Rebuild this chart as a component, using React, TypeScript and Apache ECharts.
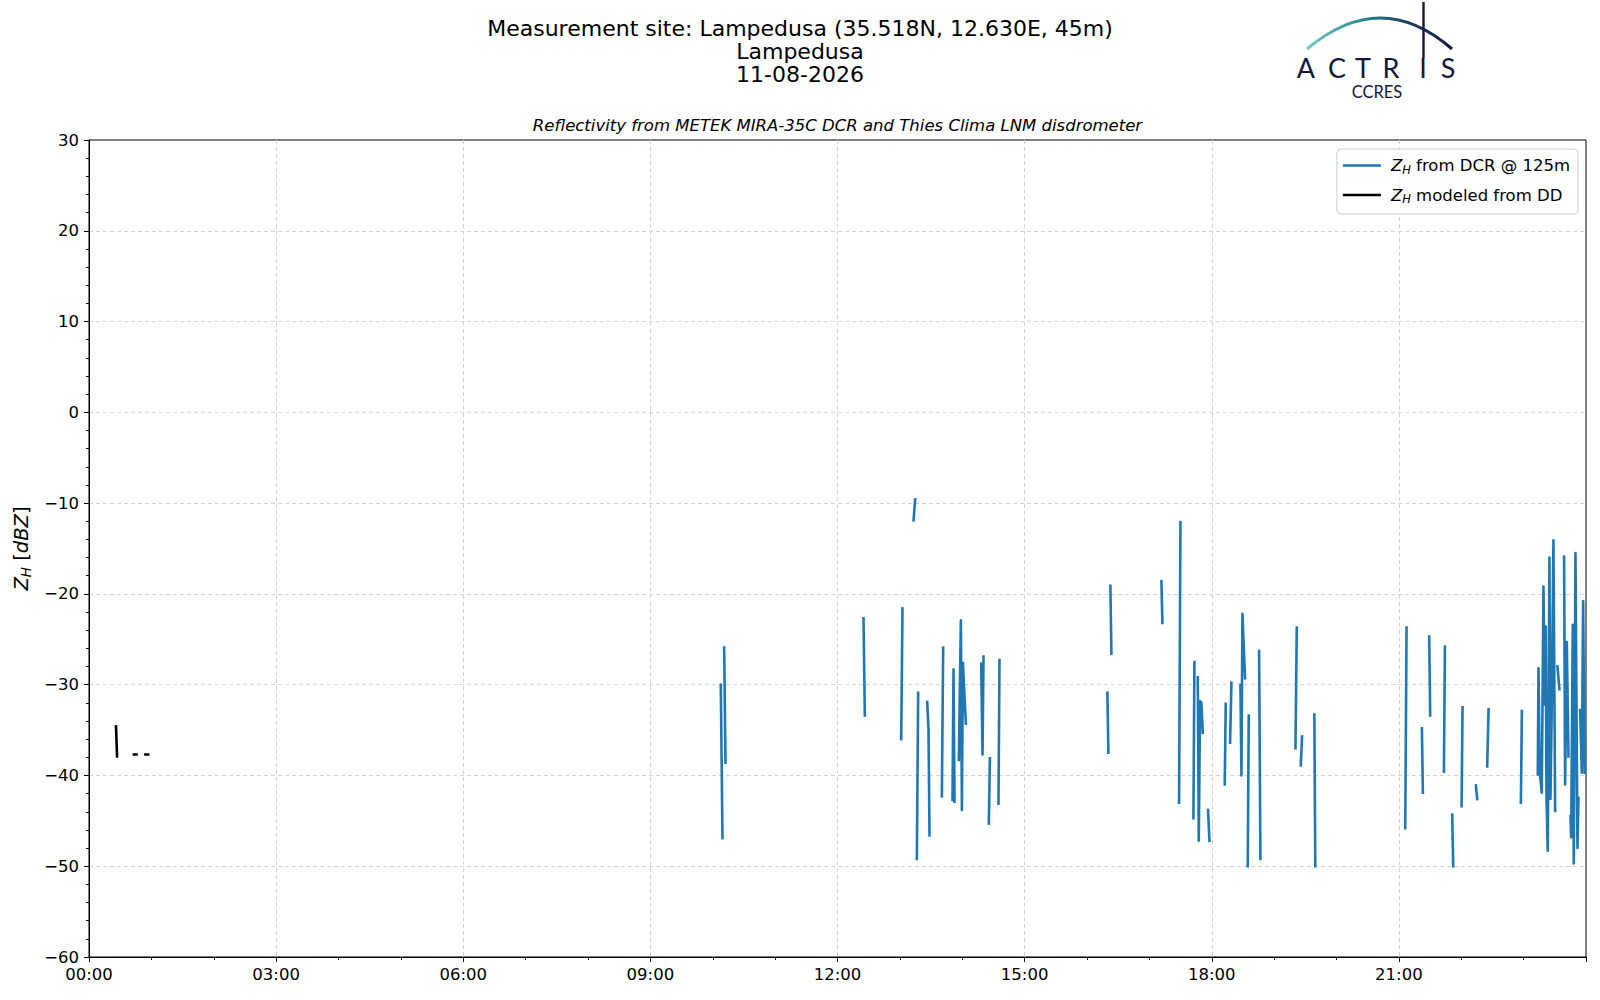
import React, { useEffect, useRef } from 'react';
import * as echarts from 'echarts';

// ---- Data (hours since 00:00 UTC, reflectivity in dBZ; null = gap) ----
const dcrHours: (number | null)[] = [
  10.129, 10.156, null,
  10.183, 10.204, null,
  12.417, 12.438, null,
  13.021, 13.042, null,
  13.219, 13.245, null,
  13.272, 13.293, null,
  13.438, 13.459, 13.475, null,
  13.673, 13.694, null,
  13.844, 13.86, 13.876, null,
  13.945, 13.978, 13.994, 14.01, 14.058, null,
  14.304, 14.325, 14.341, null,
  14.426, 14.443, null,
  14.581, 14.597, null,
  16.327, 16.343, null,
  16.375, 16.391, null,
  17.193, 17.209, null,
  17.476, 17.498, null,
  17.706, 17.722, null,
  17.776, 17.792, 17.813, 17.834, 17.856, null,
  17.941, 17.963, null,
  18.208, 18.224, null,
  18.294, 18.315, null,
  18.46, 18.476, 18.492, 18.534, null,
  18.577, 18.593, null,
  18.759, 18.78, null,
  19.342, 19.363, null,
  19.427, 19.448, null,
  19.645, 19.66, null,
  21.102, 21.123, null,
  21.369, 21.385, null,
  21.486, 21.502, null,
  21.722, 21.738, null,
  21.855, 21.871, null,
  22.005, 22.021, null,
  22.235, 22.256, null,
  22.416, 22.438, null,
  22.956, 22.972, null,
  23.227, 23.238, 23.259, 23.291, 23.318, 23.339, 23.355, 23.366, 23.387, 23.414, 23.43, 23.452, 23.478, 23.505, null,
  23.542, 23.574, null,
  23.649, 23.665, 23.692, 23.719, null,
  23.751, 23.762, 23.788, 23.804, 23.831, 23.863, 23.879, null,
  23.906, 23.933, 23.954, 23.978,
];
const dcrZh: (number | null)[] = [
  -30.0, -46.9, null,
  -25.9, -38.6, null,
  -22.7, -33.4, null,
  -36.0, -21.6, null,
  -11.9, -9.6, null,
  -49.2, -30.9, null,
  -31.9, -34.9, -46.6, null,
  -42.3, -25.9, null,
  -42.7, -28.3, -42.9, null,
  -38.3, -22.9, -43.8, -27.6, -34.3, null,
  -27.7, -37.7, -26.9, null,
  -45.3, -38.1, null,
  -43.1, -27.3, null,
  -30.9, -37.5, null,
  -19.1, -26.6, null,
  -18.6, -23.2, null,
  -43.0, -12.1, null,
  -44.7, -27.5, null,
  -29.2, -47.2, -31.8, -32.0, -35.3, null,
  -43.8, -47.2, null,
  -41.0, -32.1, null,
  -36.4, -29.8, null,
  -30.0, -40.0, -22.2, -29.3, null,
  -50.0, -33.4, null,
  -26.3, -49.2, null,
  -37.0, -23.7, null,
  -38.9, -35.7, null,
  -33.3, -50.0, null,
  -45.8, -23.7, null,
  -34.8, -41.9, null,
  -24.7, -33.4, null,
  -39.6, -25.8, null,
  -44.3, -50.0, null,
  -43.4, -32.5, null,
  -41.1, -42.6, null,
  -39.0, -32.7, null,
  -43.0, -32.9, null,
  -39.9, -28.2, -39.7, -41.9, -19.2, -32.2, -23.6, -42.3, -48.3, -16.0, -42.6, -32.0, -14.1, -43.9, null,
  -28.0, -30.5, null,
  -15.9, -41.0, -25.3, -37.9, null,
  -44.5, -46.8, -23.4, -49.7, -15.5, -48.0, -42.5, null,
  -32.8, -39.7, -20.8, -39.7,
];
const ddHours: (number | null)[] = [0.433, 0.45, null, 0.72, 0.762, null, 0.905, 0.948];
const ddZh: (number | null)[] = [-34.6, -37.9, null, -37.7, -37.7, null, -37.7, -37.7];

const xMin = 0;
const xMax = 24;
const xStep = 3;
const yMin = -60;
const yMax = 30;
const yStep = 10;

const titleLines = [
  'Measurement site: Lampedusa (35.518N, 12.630E, 45m)',
  'Lampedusa',
  '11-08-2026',
];
const subTitle = 'Reflectivity from METEK MIRA-35C DCR and Thies Clima LNM disdrometer';
const dcrName = 'Z_H from DCR @ 125m';
const ddName = 'Z_H modeled from DD';
const logoLetters = ['A', 'C', 'T', 'R', 'I', 'S'];

const FONT = 'DejaVu Sans';
const NAVY = '#15163d';

function toPairs(xs: (number | null)[], ys: (number | null)[]) {
  return xs.map((x, i) => (x === null || ys[i] === null ? '-' : [x, ys[i]]));
}

function txt(x: number, y: number, text: string, extra: any) {
  return {
    type: 'text',
    x,
    y,
    silent: true,
    style: {
      text,
      align: 'center',
      verticalAlign: 'middle',
      textAlign: 'center',
      textVerticalAlign: 'middle',
      fill: '#000',
      fontFamily: FONT,
      ...extra,
    },
  };
}

export default function App() {
  const ref = useRef<HTMLDivElement>(null);
  useEffect(() => {
    const chart = echarts.init(ref.current!, null, { renderer: 'svg' });
    const letterX = [1306, 1337, 1363, 1391, 1423, 1448];
    const graphics: any[] = [
      ...titleLines.map((t, i) => txt(800, 28.6 + i * 23, t, { fontSize: 22 })),
      txt(837.5, 125.5, subTitle, { fontSize: 16.5, fontStyle: 'italic' }),
      {
        type: 'bezierCurve',
        silent: true,
        shape: { x1: 1307, y1: 49, x2: 1452, y2: 49, cpx1: 1381, cpy1: -13 },
        style: {
          fill: 'none',
          lineWidth: 3,
          stroke: new echarts.graphic.LinearGradient(0, 0, 1, 0, [
            { offset: 0, color: '#7cc8c4' },
            { offset: 0.35, color: '#2f8f98' },
            { offset: 0.7, color: '#1d3b5c' },
            { offset: 1, color: NAVY },
          ]),
        },
      },
      {
        type: 'rect',
        silent: true,
        shape: { x: 1422.3, y: 2, width: 2.4, height: 56 },
        style: { fill: NAVY },
      },
      ...logoLetters.map((l, i) =>
        txt(letterX[i], 67.5, l, { fontSize: 27, fontFamily: 'Lato', fill: NAVY })
      ),
      txt(1377, 91.5, 'CCRES', { fontSize: 16.5, fontFamily: 'Lato', fill: NAVY }),
    ];

    const richLegend = {
      i: { fontStyle: 'italic', fontSize: 16.5, fontFamily: FONT, lineHeight: 20, padding: [0, 0, 0, 5], color: '#000' },
      s: { fontStyle: 'italic', fontSize: 11.5, fontFamily: FONT, lineHeight: 10, verticalAlign: 'bottom', color: '#000' },
      t: { fontSize: 16.5, fontFamily: FONT, lineHeight: 20, color: '#000' },
    };

    const option: any = {
      animation: false,
      backgroundColor: '#fff',
      textStyle: { fontFamily: FONT },
      graphic: graphics,
      grid: {
        left: 89,
        right: 14,
        top: 140,
        bottom: 43,
        show: true,
        borderColor: '#000',
        borderWidth: 1,
        containLabel: false,
        outerBoundsMode: 'none',
      },
      legend: {
        orient: 'vertical',
        right: 22,
        top: 149,
        padding: [8, 8, 9, 6],
        itemGap: 11,
        itemWidth: 38,
        itemHeight: 2.5,
        icon: 'rect',
        borderColor: '#cccccc',
        borderWidth: 1,
        borderRadius: 4,
        backgroundColor: 'rgba(255,255,255,0.8)',
        itemStyle: { borderWidth: 0 },
        data: [dcrName, ddName],
        formatter: (name: string) =>
          name === dcrName ? '{i|Z}{s|H}{t| from DCR @ 125m}' : '{i|Z}{s|H}{t| modeled from DD}',
        textStyle: { rich: richLegend, fontSize: 16.5, color: '#000' },
      },
      xAxis: {
        type: 'value',
        min: xMin,
        max: xMax,
        interval: xStep,
        axisLine: { show: true, onZero: false, lineStyle: { color: '#000', width: 1 } },
        axisTick: { show: true, length: 5, lineStyle: { color: '#000', width: 1 } },
        minorTick: { show: true, splitNumber: 3, length: 3, lineStyle: { color: '#000', width: 1 } },
        axisLabel: {
          margin: 9,
          fontSize: 16.5,
          color: '#000',
          fontFamily: FONT,
          formatter: (v: number) => (v >= 24 ? '' : String(v).padStart(2, '0') + ':00'),
        },
        splitLine: {
          show: true,
          showMinLine: false,
          showMaxLine: false,
          lineStyle: { color: '#d3d3d3', width: 1, type: [4, 3] },
        },
        minorSplitLine: { show: false },
      },
      yAxis: {
        type: 'value',
        min: yMin,
        max: yMax,
        interval: yStep,
        name: '{i|Z}{s|H}{t| [}{i|dBZ}{t|]}',
        nameLocation: 'middle',
        nameRotate: 90,
        nameGap: 54,
        nameTextStyle: {
          rich: {
            i: { fontStyle: 'italic', fontSize: 19.5, fontFamily: FONT, lineHeight: 24, color: '#000' },
            s: { fontStyle: 'italic', fontSize: 13.5, fontFamily: FONT, lineHeight: 12, verticalAlign: 'bottom', color: '#000' },
            t: { fontSize: 19.5, fontFamily: FONT, lineHeight: 24, color: '#000' },
          },
        },
        axisLine: { show: true, onZero: false, lineStyle: { color: '#000', width: 1 } },
        axisTick: { show: true, length: 5, lineStyle: { color: '#000', width: 1 } },
        minorTick: { show: true, splitNumber: 5, length: 3, lineStyle: { color: '#000', width: 1 } },
        axisLabel: {
          margin: 10,
          fontSize: 16.5,
          color: '#000',
          fontFamily: FONT,
          formatter: (v: number) => (v < 0 ? '\u2212' + String(-v) : String(v)),
        },
        splitLine: {
          show: true,
          showMinLine: false,
          showMaxLine: false,
          lineStyle: { color: '#d3d3d3', width: 1, type: [4, 3] },
        },
      },
      series: [
        {
          name: dcrName,
          type: 'line',
          data: toPairs(dcrHours, dcrZh),
          showSymbol: false,
          symbol: 'none',
          connectNulls: false,
          color: '#1f77b4',
          lineStyle: { color: '#1f77b4', width: 2.6, cap: 'square', join: 'round' },
          z: 3,
        },
        {
          name: ddName,
          type: 'line',
          data: toPairs(ddHours, ddZh),
          showSymbol: false,
          symbol: 'none',
          connectNulls: false,
          color: '#000',
          lineStyle: { color: '#000', width: 2.6, cap: 'square', join: 'round' },
          z: 4,
        },
      ],
    };
    chart.setOption(option);
    return () => chart.dispose();
  }, []);
  return (
    <div
      ref={ref}
      style={{ position: 'absolute', left: 0, top: 0, width: 1600, height: 1000 }}
    />
  );
}
